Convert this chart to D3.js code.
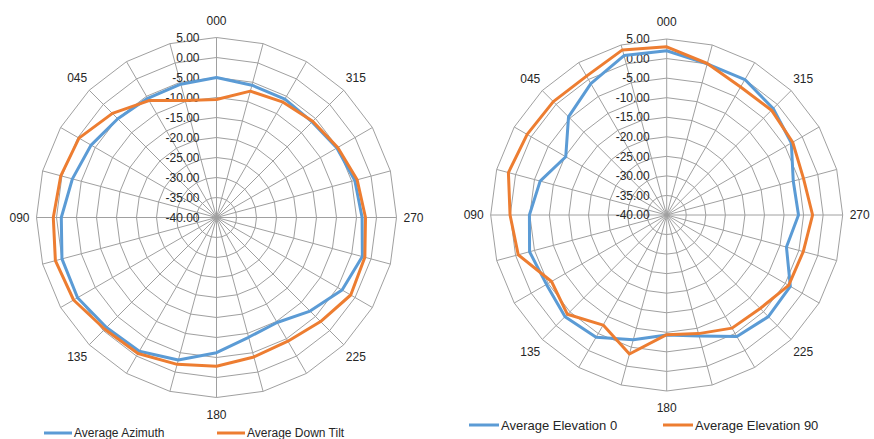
<!DOCTYPE html>
<html>
<head>
<meta charset="utf-8">
<script src="https://cdn.jsdelivr.net/npm/d3@7"></script>
<style>
body { margin: 0; background: #fff; }
text { font-family: "Liberation Sans", Arial, sans-serif; fill: #262626; font-size: 12px; }
</style>
</head>
<body>
<script>
// azimuths go counter-clockwise from the top: 000, 015, ... 345
const azimuths = d3.range(0, 360, 15);
const shownAzimuths = [0, 45, 90, 135, 180, 225, 270, 315];
const radialTicks = d3.range(-40, 6, 5);

// values in azimuth order 000, 015, 030 ... 345
const avgAzimuth = [-5.0, -5.5, -5.6, -5.1, -3.8, -2.7, -1.2, 0.0, 0.1, -1.1, -1.4, -3.1,
    -6.2, -9.0, -9.7, -6.9, -3.75, -2.25, -3.6, -4.2, -5.25, -6.2, -5.8, -5.75];
const avgDownTilt = [-10.5, -9.7, -6.25, -3.2, -0.3, 0.3, 0.8, 1.7, 1.25, -0.5, -0.75, -2.0,
    -2.8, -3.9, -4.3, -3.2, -1.25, -1.6, -2.75, -3.6, -5.0, -6.0, -6.7, -7.3];
const avgElevation0 = [2.0, 2.2, -1.2, -4.5, -10.2, -6.5, -4.9, -3.7, -4.5, -3.25, -3.9, -7.0,
    -9.3, -8.0, -4.1, -3.25, -3.5, -8.3, -6.3, -6.5, -3.2, -1.5, 0.0, 0.0];
const avgElevation90 = [3.0, 3.7, 1.0, 1.0, 1.2, 1.9, 0.05, -0.7, -6.0, -4.1, -7.5, -3.2,
    -9.4, -8.6, -6.6, -6.2, -4.0, -3.85, -2.7, -3.8, -2.8, -2.1, -2.2, 0.1];

const blue = '#5b9bd5', orange = '#ed7d31', gridColor = '#a0a0a0';
const width = 874, height = 439;

const svg = d3.select('body').append('svg')
    .attr('width', width)
    .attr('height', height);

function drawRadar(cx, cy, R, series) {
    const g = svg.append('g').attr('transform', 'translate(' + cx + ',' + cy + ')');
    const r = d3.scaleLinear().domain([-40, 5]).range([0, R]);
    const ang = az => -az * Math.PI / 180;

    // polygon gridlines
    const ring = d3.lineRadial()
        .angle(az => ang(az))
        .curve(d3.curveLinearClosed);
    g.selectAll('.ring')
        .data(radialTicks.filter(t => t > -40))
        .join('path')
        .attr('d', t => ring.radius(r(t))(azimuths))
        .attr('fill', 'none')
        .attr('stroke', gridColor)
        .attr('stroke-width', 1);

    // spokes
    g.selectAll('.spoke')
        .data(azimuths)
        .join('line')
        .attr('x1', 0).attr('y1', 0)
        .attr('x2', az => -r(5) * Math.sin(az * Math.PI / 180))
        .attr('y2', az => -r(5) * Math.cos(az * Math.PI / 180))
        .attr('stroke', gridColor)
        .attr('stroke-width', 1);

    // value labels along the 000 spoke
    g.selectAll('.tick')
        .data(radialTicks)
        .join('text')
        .attr('x', -17)
        .attr('y', t => -r(t))
        .attr('dy', '0.35em')
        .attr('text-anchor', 'end')
        .text(t => t.toFixed(2));

    // category labels
    const lr = R + 17;
    g.selectAll('.cat')
        .data(shownAzimuths)
        .join('text')
        .attr('x', az => -lr * Math.sin(az * Math.PI / 180))
        .attr('y', az => -lr * Math.cos(az * Math.PI / 180))
        .attr('dy', '0.35em')
        .attr('text-anchor', 'middle')
        .text(az => String(az).padStart(3, '0'));

    // data lines
    const line = d3.lineRadial()
        .angle((d, i) => ang(azimuths[i]))
        .radius(d => r(d))
        .curve(d3.curveLinearClosed);
    series.forEach(s => {
        g.append('path')
            .attr('d', line(s.values))
            .attr('fill', 'none')
            .attr('stroke', s.color)
            .attr('stroke-width', 3)
            .attr('stroke-linejoin', 'round');
    });
}

function drawLegend(y, size, items) {
    items.forEach(it => {
        svg.append('line')
            .attr('x1', it.x1).attr('x2', it.x2)
            .attr('y1', y).attr('y2', y)
            .attr('stroke', it.color)
            .attr('stroke-width', 3);
        svg.append('text')
            .attr('x', it.x2 + 2)
            .attr('y', y)
            .attr('dy', '0.35em')
            .style('font-size', size + 'px')
            .text(it.name);
    });
}

drawRadar(216.5, 217.5, 180, [
    { values: avgAzimuth, color: blue },
    { values: avgDownTilt, color: orange }
]);
drawRadar(666.7, 215, 176, [
    { values: avgElevation0, color: blue },
    { values: avgElevation90, color: orange }
]);

drawLegend(433, 12, [
    { name: 'Average Azimuth', color: blue, x1: 44, x2: 72 },
    { name: 'Average Down Tilt', color: orange, x1: 217, x2: 245 }
]);
drawLegend(425, 13, [
    { name: 'Average Elevation 0', color: blue, x1: 469, x2: 499 },
    { name: 'Average Elevation 90', color: orange, x1: 663, x2: 693 }
]);
</script>
</body>
</html>
